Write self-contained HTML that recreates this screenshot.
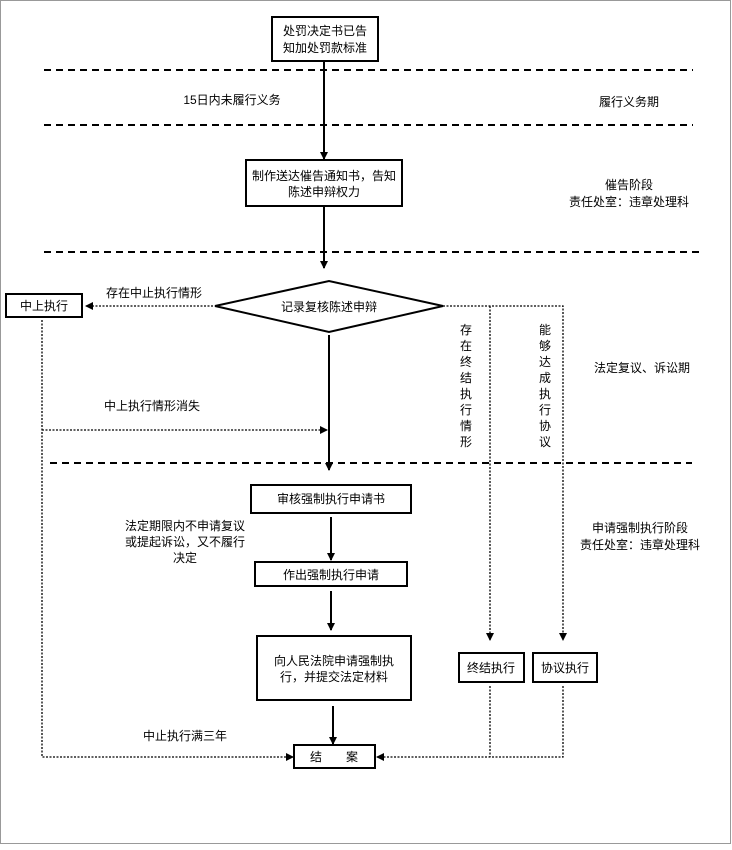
<!DOCTYPE html>
<html><head><meta charset="utf-8"><style>
html,body{margin:0;padding:0;background:#fff}
svg text{font-family:"Liberation Sans","Noto Sans CJK SC",sans-serif;font-size:12px;fill:#000}
</style></head><body>
<svg width="732" height="845" viewBox="0 0 732 845" xmlns="http://www.w3.org/2000/svg">
<defs>
<marker id="a" markerWidth="8" markerHeight="8" refX="7" refY="4" orient="auto" markerUnits="userSpaceOnUse"><path d="M0,0 L8,4 L0,8 z" fill="#000"/></marker>
</defs>
<rect x="0.5" y="0.5" width="730" height="843" fill="none" stroke="#999" stroke-width="1"/>
<g stroke="#000" stroke-width="2" stroke-dasharray="7,5" fill="none">
<line x1="44" y1="70" x2="693" y2="70"/>
<line x1="44" y1="125" x2="693" y2="125"/>
<line x1="44" y1="252" x2="699" y2="252"/>
<line x1="50" y1="463" x2="692" y2="463"/>
</g>
<g stroke="#000" stroke-width="2" fill="#fff">
<rect x="272" y="17" width="106" height="44"/>
<rect x="246" y="160" width="156" height="46"/>
<polygon points="215,306 329,281 443,306 329,332"/>
<rect x="6" y="294" width="76" height="23"/>
<rect x="251" y="485" width="160" height="28"/>
<rect x="255" y="562" width="152" height="24"/>
<rect x="257" y="636" width="154" height="64"/>
<rect x="294" y="745" width="81" height="23"/>
<rect x="459" y="653" width="65" height="29"/>
<rect x="533" y="653" width="64" height="29"/>
</g>
<g stroke="#000" stroke-width="2" fill="none" marker-end="url(#a)">
<line x1="324" y1="61" x2="324" y2="159"/>
<line x1="324" y1="206" x2="324" y2="268"/>
<line x1="329" y1="335" x2="329" y2="470"/>
<line x1="331" y1="517" x2="331" y2="560"/>
<line x1="331" y1="591" x2="331" y2="630"/>
<line x1="333" y1="706" x2="333" y2="744"/>
</g>
<g stroke="#000" stroke-width="1.3" stroke-dasharray="2,1.5" fill="none">
<line x1="213" y1="306" x2="86" y2="306" marker-end="url(#a)"/>
<polyline points="443,306 563,306 563,640" marker-end="url(#a)"/>
<line x1="490" y1="306" x2="490" y2="640" marker-end="url(#a)"/>
<polyline points="42,320 42,757 293,757" marker-end="url(#a)"/>
<line x1="42" y1="430" x2="327" y2="430" marker-end="url(#a)"/>
<line x1="490" y1="686" x2="490" y2="757"/>
<polyline points="563,686 563,757 377,757" marker-end="url(#a)"/>
</g>
<g text-anchor="middle">
<text x="325" y="35">处罚决定书已告</text>
<text x="325" y="52">知加处罚款标准</text>
<text x="324" y="180">制作送达催告通知书，告知</text>
<text x="324" y="196">陈述申辩权力</text>
<text x="329" y="311">记录复核陈述申辩</text>
<text x="44" y="310">中上执行</text>
<text x="331" y="503">审核强制执行申请书</text>
<text x="331" y="579">作出强制执行申请</text>
<text x="334" y="665">向人民法院申请强制执</text>
<text x="334" y="681">行，并提交法定材料</text>
<text x="334" y="761">结　　案</text>
<text x="491" y="672">终结执行</text>
<text x="565" y="672">协议执行</text>
<text x="232" y="104">15日内未履行义务</text>
<text x="629" y="106">履行义务期</text>
<text x="629" y="189">催告阶段</text>
<text x="629" y="206">责任处室：违章处理科</text>
<text x="642" y="372">法定复议、诉讼期</text>
<text x="640" y="532">申请强制执行阶段</text>
<text x="640" y="549">责任处室：违章处理科</text>
<text x="185" y="530">法定期限内不申请复议</text>
<text x="185" y="546">或提起诉讼，又不履行</text>
<text x="185" y="562">决定</text>
<text x="185" y="740">中止执行满三年</text>
<text x="154" y="297">存在中止执行情形</text>
<text x="152" y="410">中上执行情形消失</text>
</g>
<g text-anchor="middle">
<text x="466" y="334">存</text><text x="466" y="350">在</text><text x="466" y="366">终</text><text x="466" y="382">结</text><text x="466" y="398">执</text><text x="466" y="414">行</text><text x="466" y="430">情</text><text x="466" y="446">形</text>
<text x="545" y="334">能</text><text x="545" y="350">够</text><text x="545" y="366">达</text><text x="545" y="382">成</text><text x="545" y="398">执</text><text x="545" y="414">行</text><text x="545" y="430">协</text><text x="545" y="446">议</text>
</g>
</svg>
</body></html>
